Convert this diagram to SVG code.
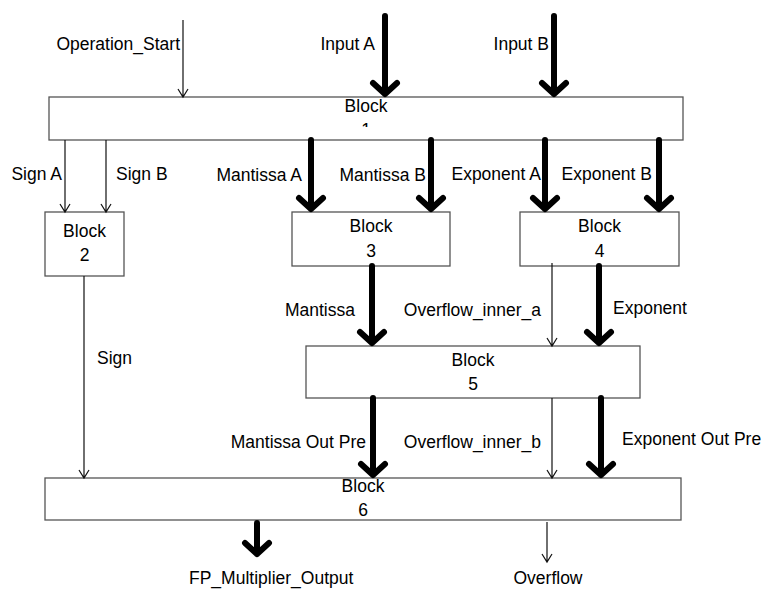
<svg xmlns="http://www.w3.org/2000/svg" width="764" height="590" viewBox="0 0 764 590">
  <style>
    text { font-family: "Liberation Sans", Arial, sans-serif; font-size: 17.5px; fill: #000; }
    .mid { text-anchor: middle; }
    .end { text-anchor: end; }
    .box { fill: #fff; stroke: #555; stroke-width: 1.3; }
    .bus { fill: none; stroke: #000; stroke-width: 6; stroke-linecap: round; stroke-linejoin: round; }
    .wire { fill: none; stroke: #111; stroke-width: 1.2; }
  </style>
  <defs>
    <clipPath id="clipBlock1Text">
      <rect x="49" y="97" width="634" height="30"/>
    </clipPath>
  </defs>

  <rect width="764" height="590" fill="#fff"/>

  <!-- Blocks -->
  <g id="block1">
    <rect class="box" x="49" y="97" width="634" height="43"/>
    <g clip-path="url(#clipBlock1Text)">
      <text class="mid" x="366" y="112">Block</text>
      <text class="mid" x="366" y="136">1</text>
    </g>
  </g>
  <g id="block2">
    <rect class="box" x="45" y="212" width="79" height="64"/>
    <text class="mid" x="84.5" y="237">Block</text>
    <text class="mid" x="84.5" y="261">2</text>
  </g>
  <g id="block3">
    <rect class="box" x="292" y="212" width="158" height="54"/>
    <text class="mid" x="371" y="232">Block</text>
    <text class="mid" x="371" y="257">3</text>
  </g>
  <g id="block4">
    <rect class="box" x="520" y="212" width="159" height="54"/>
    <text class="mid" x="599.5" y="232">Block</text>
    <text class="mid" x="599.5" y="257">4</text>
  </g>
  <g id="block5">
    <rect class="box" x="306" y="346" width="334" height="52"/>
    <text class="mid" x="473" y="366">Block</text>
    <text class="mid" x="473" y="390">5</text>
  </g>
  <g id="block6">
    <rect class="box" x="45" y="478" width="636" height="42"/>
    <text class="mid" x="363" y="492">Block</text>
    <text class="mid" x="363" y="516">6</text>
  </g>

  <!-- Connectors: thin wires are single signals, thick buses are multi-bit -->
  <g id="connectors">
    <!-- inputs to block 1 -->
    <path class="wire" d="M183 20 V97 M178 89 L183 97 L188 89"/>
    <path class="bus" d="M385 16 V94 M373 83 L385 94 L397 83"/>
    <path class="bus" d="M554 16 V94 M542 83 L554 94 L566 83"/>

    <!-- block 1 to blocks 2, 3, 4 -->
    <path class="wire" d="M65 140 V212 M60 204 L65 212 L70 204"/>
    <path class="wire" d="M106 140 V212 M101 204 L106 212 L111 204"/>
    <path class="bus" d="M311 140 V209 M299 198 L311 209 L323 198"/>
    <path class="bus" d="M431 140 V209 M419 198 L431 209 L443 198"/>
    <path class="bus" d="M545 140 V209 M533 198 L545 209 L557 198"/>
    <path class="bus" d="M659 140 V209 M647 198 L659 209 L671 198"/>

    <!-- blocks 3, 4 to block 5 -->
    <path class="bus" d="M372 266 V343 M360 332 L372 343 L384 332"/>
    <path class="wire" d="M552 263 V346 M547 338 L552 346 L557 338"/>
    <path class="bus" d="M599 266 V343 M587 332 L599 343 L611 332"/>

    <!-- block 2 to block 6 -->
    <path class="wire" d="M84 276 V478 M79 470 L84 478 L89 470"/>

    <!-- block 5 to block 6 -->
    <path class="bus" d="M373 398 V475 M361 464 L373 475 L385 464"/>
    <path class="wire" d="M552 398 V478 M547 470 L552 478 L557 470"/>
    <path class="bus" d="M601 398 V475 M589 464 L601 475 L613 464"/>

    <!-- outputs of block 6 -->
    <path class="bus" d="M257 523 V554 M245 543 L257 554 L269 543"/>
    <path class="wire" d="M547 522 V562 M542 554 L547 562 L552 554"/>
  </g>

  <!-- Signal labels -->
  <g id="labels">
    <text class="end" x="180" y="50">Operation_Start</text>
    <text class="end" x="375" y="50">Input A</text>
    <text class="end" x="549" y="50">Input B</text>

    <text class="end" x="62" y="180">Sign A</text>
    <text x="116" y="180">Sign B</text>
    <text class="end" x="302" y="181">Mantissa A</text>
    <text class="end" x="426" y="181">Mantissa B</text>
    <text class="end" x="541" y="180">Exponent A</text>
    <text class="end" x="652" y="180">Exponent B</text>

    <text class="end" x="355" y="316">Mantissa</text>
    <text class="end" x="541" y="316">Overflow_inner_a</text>
    <text x="613" y="314">Exponent</text>

    <text x="97" y="364">Sign</text>

    <text class="end" x="366" y="448">Mantissa Out Pre</text>
    <text class="end" x="541" y="448">Overflow_inner_b</text>
    <text x="622" y="445">Exponent Out Pre</text>

    <text x="189" y="584">FP_Multiplier_Output</text>
    <text class="mid" x="548" y="584">Overflow</text>
  </g>
</svg>
